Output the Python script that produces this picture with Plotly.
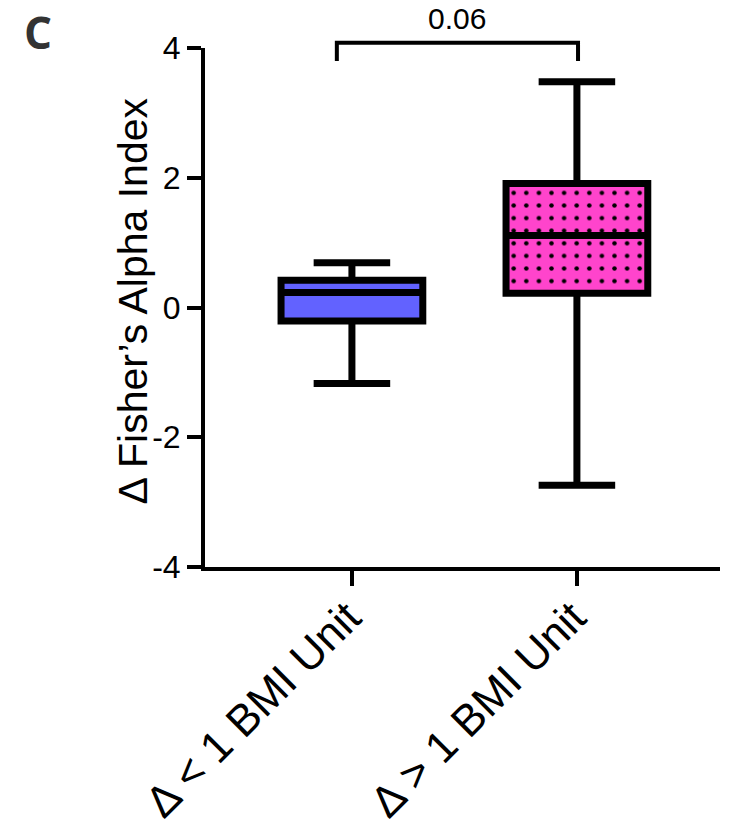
import plotly.graph_objects as go

categories = ["Δ < 1 BMI Unit", "Δ > 1 BMI Unit"]
lower_whisker = [-1.17, -2.74]
q1_values = [-0.21, 0.22]
medians = [0.23, 1.11]
q3_values = [0.42, 1.91]
upper_whisker = [0.69, 3.48]
y_ticks = [-4, -2, 0, 2, 4]
y_tick_labels = ["-4", "-2", "0", "2", "4"]
y_title = "Δ Fisher’s Alpha Index"
p_value_label = "0.06"
panel_label = "C"

box_colors = ["#6262FF", "#FF44CC"]
box_width = 0.63
y_min, y_max = -4, 4

fig = go.Figure()

# patterned fill for the second box (bar spanning Q1..Q3)
fig.add_trace(go.Bar(
    x=[categories[1]],
    y=[q3_values[1] - q1_values[1]],
    base=[q1_values[1]],
    width=[box_width],
    marker=dict(color=box_colors[1], line=dict(width=0),
                pattern=dict(shape=".", fgcolor="black", bgcolor=box_colors[1],
                             size=12.6, solidity=0.1, fillmode="replace")),
    hoverinfo="skip", showlegend=False,
))

for i, cat in enumerate(categories):
    fig.add_trace(go.Box(
        x=[cat],
        q1=[q1_values[i]], median=[medians[i]], q3=[q3_values[i]],
        lowerfence=[lower_whisker[i]], upperfence=[upper_whisker[i]],
        fillcolor=box_colors[i] if i == 0 else "rgba(0,0,0,0)",
        line=dict(color="black", width=7),
        width=box_width, whiskerwidth=0.54,
        boxpoints=False, showlegend=False,
    ))

# significance bracket (y in data units, converted to paper so it is not clipped)
def to_paper(v):
    return (v - y_min) / (y_max - y_min)

bx0, bx1 = 0 - 0.067, 1 + 0.005
by_top, by_leg = 4.08, 3.80
fig.add_shape(type="path",
              path=f"M {bx0} {to_paper(by_leg)} L {bx0} {to_paper(by_top)} "
                   f"L {bx1} {to_paper(by_top)} L {bx1} {to_paper(by_leg)}",
              xref="x", yref="paper", line=dict(color="black", width=4), layer="above")
fig.add_annotation(x=(bx0 + bx1) / 2, y=to_paper(by_top), xref="x", yref="paper",
                   text=p_value_label, showarrow=False, yanchor="bottom", yshift=6,
                   font=dict(family="Liberation Sans, Arial", size=30, color="black"))
fig.add_annotation(x=0, y=1, xref="paper", yref="paper", text=f"<b>{panel_label}</b>",
                   showarrow=False, xanchor="left", yanchor="top",
                   xshift=-183, yshift=48,
                   font=dict(family="Open Sans", size=44, color="#333333"))
# y-axis title
fig.add_annotation(x=0, y=0.5, xref="paper", yref="paper", text=y_title,
                   showarrow=False, textangle=-90, xanchor="center", yanchor="middle",
                   xshift=-73, yshift=6,
                   font=dict(family="Liberation Sans, Arial", size=41, color="black"))

fig.update_layout(
    width=732, height=834,
    margin=dict(l=205, r=12, t=48, b=267, autoexpand=False),
    plot_bgcolor="white", paper_bgcolor="white",
    font=dict(family="Liberation Sans, Arial", color="black"),
    barmode="overlay", boxmode="overlay",
    xaxis=dict(
        type="category", categoryorder="array", categoryarray=categories,
        range=[-0.653, 1.636], automargin=False,
        showline=True, linecolor="black", linewidth=4,
        ticks="outside", ticklen=15, tickwidth=4, tickcolor="black",
        tickangle=-45, tickfont=dict(size=44),
        ticklabelstandoff=-12, ticklabelshift=-4,
        showgrid=False, zeroline=False,
    ),
    yaxis=dict(
        range=[y_min, y_max], tickvals=y_ticks, ticktext=y_tick_labels,
        automargin=False,
        showline=True, linecolor="black", linewidth=4,
        ticks="outside", ticklen=14, tickwidth=4, tickcolor="black",
        tickfont=dict(size=32),
        showgrid=False, zeroline=False,
    ),
)

fig.write_html("out.html", config={"displayModeBar": False},
               post_script="document.body.style.margin='0px';document.body.style.padding='0px';")
